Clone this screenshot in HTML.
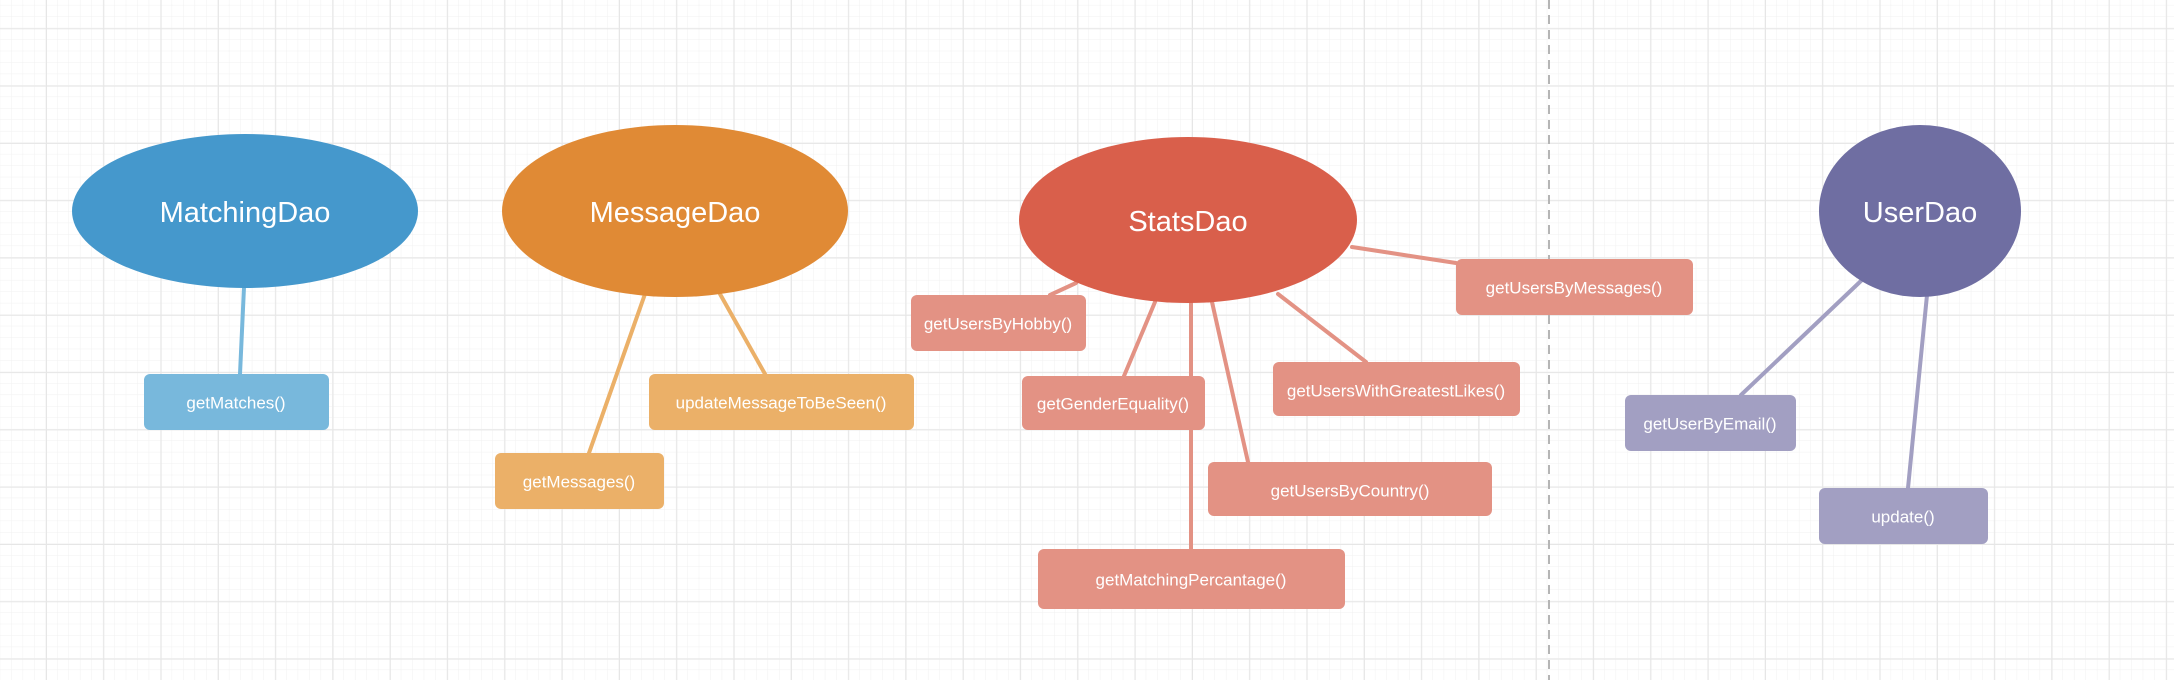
<!DOCTYPE html>
<html><head><style>
html,body{margin:0;padding:0;background:#fff;}
svg{display:block;}
text{font-family:"Liberation Sans",Arial,sans-serif;fill:#fff;text-anchor:middle;dominant-baseline:central;}
</style></head><body>
<svg width="2174" height="680" viewBox="0 0 2174 680" xmlns="http://www.w3.org/2000/svg">
<defs>
<pattern id="minor" x="0.2" y="5.4" width="11.46" height="11.46" patternUnits="userSpaceOnUse">
<path d="M11.46 0V11.46M0 11.46H11.46" stroke="#f1f1f1" stroke-width="1" fill="none"/>
</pattern>
<pattern id="major" x="46" y="28.3" width="57.3" height="57.3" patternUnits="userSpaceOnUse">
<path d="M0 0V57.3M0 0H57.3" stroke="#e6e6e6" stroke-width="2" fill="none"/>
</pattern>
</defs>
<rect width="2174" height="680" fill="url(#minor)"/>
<rect width="2174" height="680" fill="url(#major)"/>
<line x1="1549" y1="0" x2="1549" y2="680" stroke="#b5b5b5" stroke-width="2" stroke-dasharray="9,6"/>

<g stroke-width="4" stroke-linecap="round">
<line x1="244" y1="287" x2="240" y2="374" stroke="#78b8dc"/>
<line x1="645" y1="294" x2="589" y2="453" stroke="#ebb068"/>
<line x1="720" y1="294" x2="765" y2="374" stroke="#ebb068"/>
<line x1="1076" y1="283" x2="1050" y2="295" stroke="#e39284"/>
<line x1="1155" y1="302" x2="1124" y2="376" stroke="#e39284"/>
<line x1="1191" y1="302" x2="1191" y2="549" stroke="#e39284"/>
<line x1="1212" y1="302" x2="1248" y2="462" stroke="#e39284"/>
<line x1="1278" y1="294" x2="1366" y2="362" stroke="#e39284"/>
<line x1="1352" y1="247" x2="1456" y2="263" stroke="#e39284"/>
<line x1="1863" y1="279" x2="1741" y2="395" stroke="#a29fc2"/>
<line x1="1927" y1="295" x2="1908" y2="488" stroke="#a29fc2"/>
</g>

<ellipse cx="245" cy="211" rx="173" ry="77" fill="#4598cc"/>
<text x="245" y="213" font-size="29">MatchingDao</text>
<ellipse cx="675" cy="211" rx="173" ry="86" fill="#e08a35"/>
<text x="675" y="213" font-size="29">MessageDao</text>
<ellipse cx="1188" cy="220" rx="169" ry="83" fill="#d95f4b"/>
<text x="1188" y="222" font-size="29">StatsDao</text>
<ellipse cx="1920" cy="211" rx="101" ry="86" fill="#6f6ea2"/>
<text x="1920" y="213" font-size="29">UserDao</text>

<g font-size="17">
<rect x="144" y="374" width="185" height="56" rx="6" fill="#78b8dc"/><text x="236" y="403" font-size="17">getMatches()</text>
<rect x="495" y="453" width="169" height="56" rx="6" fill="#ebb068"/><text x="579" y="482" font-size="17">getMessages()</text>
<rect x="649" y="374" width="265" height="56" rx="6" fill="#ebb068"/><text x="781" y="403" font-size="17">updateMessageToBeSeen()</text>
<rect x="911" y="295" width="175" height="56" rx="6" fill="#e39284"/><text x="998" y="324" font-size="17">getUsersByHobby()</text>
<rect x="1022" y="376" width="183" height="54" rx="6" fill="#e39284"/><text x="1113" y="404" font-size="17">getGenderEquality()</text>
<rect x="1273" y="362" width="247" height="54" rx="6" fill="#e39284"/><text x="1396" y="391" font-size="17">getUsersWithGreatestLikes()</text>
<rect x="1208" y="462" width="284" height="54" rx="6" fill="#e39284"/><text x="1350" y="491" font-size="17">getUsersByCountry()</text>
<rect x="1038" y="549" width="307" height="60" rx="6" fill="#e39284"/><text x="1191" y="580" font-size="17">getMatchingPercantage()</text>
<rect x="1456" y="259" width="237" height="56" rx="6" fill="#e39284"/><text x="1574" y="288" font-size="17">getUsersByMessages()</text>
<rect x="1625" y="395" width="171" height="56" rx="6" fill="#a29fc2"/><text x="1710" y="424" font-size="17">getUserByEmail()</text>
<rect x="1819" y="488" width="169" height="56" rx="6" fill="#a29fc2"/><text x="1903" y="517" font-size="17">update()</text>
</g>
</svg>
</body></html>
